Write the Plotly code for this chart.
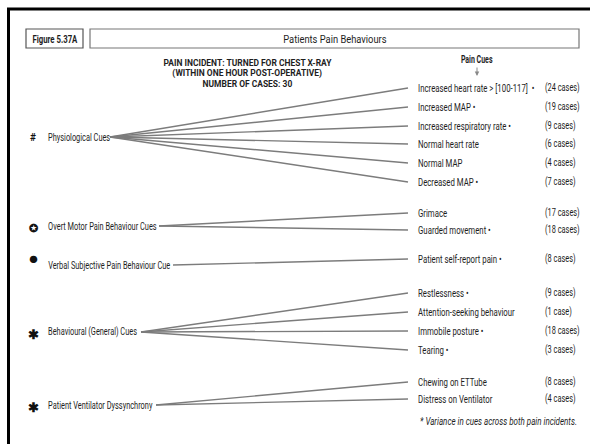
import json
import plotly.graph_objects as go

# ---------------- data ----------------
groups = ["Physiological Cues", "Overt Motor Pain Behaviour Cues",
          "Verbal Subjective Pain Behaviour Cue", "Behavioural (General) Cues",
          "Patient Ventilator Dyssynchrony"]
group_symbols = ["#", "✪", "●", "✱", "✱"]
cues = ["Increased heart rate > [100-117]", "Increased MAP", "Increased respiratory rate",
        "Normal heart rate", "Normal MAP", "Decreased MAP",
        "Grimace", "Guarded movement",
        "Patient self-report pain",
        "Restlessness", "Attention-seeking behaviour", "Immobile posture", "Tearing",
        "Chewing on ETTube", "Distress on Ventilator"]
cases = [24, 19, 9, 6, 4, 7, 17, 18, 8, 9, 1, 18, 3, 8, 4]
varies = [True, True, True, False, False, True, False, True, True,
          True, False, True, True, False, False]
cue_group = [0, 0, 0, 0, 0, 0, 1, 1, 2, 3, 3, 3, 3, 4, 4]

figure_label = "Figure 5.37A"
title = "Patients Pain Behaviours"
subtitle = ["PAIN INCIDENT: TURNED FOR CHEST X-RAY",
            "(WITHIN ONE HOUR POST-OPERATIVE)",
            "NUMBER OF CASES: 30"]
cues_header = "Pain Cues"
footnote = "* Variance in cues across both pain incidents."

# ---------------- layout positions (pixels) ----------------
W, H = 590, 444
cue_y = [88, 107, 126, 144, 163, 182, 213, 230, 259, 293, 312, 331, 350, 382, 399]
group_y = [137, 226, 265, 332, 405]
group_line_x = [110, 159, 173, 141, 156]
line_end_x = 408
cue_x = 416
case_x = 543
sym_x = 33
text_x = 46

FONT = "Roboto, Lato, sans-serif"
TXT = "#1e1e1e"
LINE = "#7c7c7c"

fig = go.Figure()

# connector lines
for i, g in enumerate(cue_group):
    fig.add_trace(go.Scatter(
        x=[group_line_x[g], line_end_x], y=[group_y[g], cue_y[i]],
        mode="lines", line=dict(color=LINE, width=1.4),
        hoverinfo="skip", showlegend=False))

annotations = []
squeeze = []   # horizontal condensing per annotation (condensed typeface look)
anchors = []
def txt(x, y, s, size=10, anchor="left", bold=False, italic=False, color=TXT, sx=0.75):
    if bold:
        s = "<b>" + s + "</b>"
    if italic:
        s = "<i>" + s + "</i>"
    annotations.append(dict(x=x, y=y, xref="x", yref="y", text=s, showarrow=False,
                            xanchor=anchor, yanchor="middle",
                            font=dict(family=FONT, size=size, color=color)))
    squeeze.append(sx)
    anchors.append(anchor)

# cue labels and case counts
for i, c in enumerate(cues):
    label = c + ("  •" if varies[i] and i == 0 else (" •" if varies[i] else ""))
    txt(cue_x, cue_y[i], label, sx=0.78)
    n = cases[i]
    txt(case_x, cue_y[i], "(%d case%s)" % (n, "" if n == 1 else "s"), sx=0.74)

# group labels and symbols
sym_sizes = [10, 11, 15, 13, 13]
sym_dy = [0, 2, -6, 2, 2]
for j, gname in enumerate(groups):
    txt(text_x, group_y[j], gname, sx=0.74)
    txt(sym_x, group_y[j] + sym_dy[j], "<b>" + group_symbols[j] + "</b>", size=sym_sizes[j],
        anchor="center", color="#111111", sx=1.0)

# header texts
txt(55, 39, figure_label, size=10, anchor="center", bold=True, sx=0.78)
txt(335, 39, title, size=11, anchor="center", sx=0.85)
for k, s in enumerate(subtitle):
    txt(247, 62 + k * 10.5, s, size=9.5, anchor="center", bold=True, sx=0.89)
txt(476, 59, cues_header, size=10, anchor="center", bold=True, sx=0.7)
txt(418, 421, footnote, size=10, anchor="left", italic=True, sx=0.8)

# arrow under "Pain Cues"
annotations.append(dict(x=477, y=76, ax=477, ay=66, xref="x", yref="y", axref="x", ayref="y",
                        text="", showarrow=True, arrowhead=2, arrowsize=0.9, arrowwidth=1,
                        arrowcolor="#888888"))
squeeze.append(1.0)
anchors.append("center")

shapes = [
    # outer frame (top and left)
    dict(type="line", x0=7, x1=W, y0=9, y1=9, line=dict(color="black", width=3)),
    dict(type="line", x0=8.5, x1=8.5, y0=8, y1=H, line=dict(color="black", width=3)),
    # figure label box
    dict(type="rect", x0=26, x1=83, y0=29, y1=48, line=dict(color="#555555", width=1.2)),
    # title box
    dict(type="rect", x0=90, x1=579, y0=29, y1=48, line=dict(color="#777777", width=1.2)),
]

fig.update_layout(
    width=W, height=H, margin=dict(l=0, r=0, t=0, b=0),
    paper_bgcolor="white", plot_bgcolor="white",
    xaxis=dict(range=[0, W], visible=False, fixedrange=True),
    yaxis=dict(range=[H, 0], visible=False, fixedrange=True),
    annotations=annotations, shapes=shapes, showlegend=False,
)

js = """
document.body.style.margin = '0';
var gd = document.getElementById('{plot_id}');
var S = %s, A = %s;
function squash() {
  gd.querySelectorAll('g.annotation').forEach(function (g) {
    var i = +g.getAttribute('data-index');
    var t = g.querySelector('text.annotation-text');
    if (!t || !(i in S) || S[i] === 1) return;
    if (!t.hasAttribute('data-ot')) t.setAttribute('data-ot', t.getAttribute('transform') || '');
    var b = t.getBBox();
    var cx = A[i] === 'left' ? b.x : b.x + b.width / 2;
    t.setAttribute('transform', t.getAttribute('data-ot') + ' translate(' + cx + ',0) scale(' + S[i] + ',1) translate(' + (-cx) + ',0)');
  });
}
squash(); setTimeout(squash, 30); setTimeout(squash, 300);
if (gd.on) gd.on('plotly_afterplot', function () { setTimeout(squash, 0); });
""" % (json.dumps(squeeze), json.dumps(anchors))

fig.write_html("out.html", config={"displayModeBar": False}, post_script=js)
